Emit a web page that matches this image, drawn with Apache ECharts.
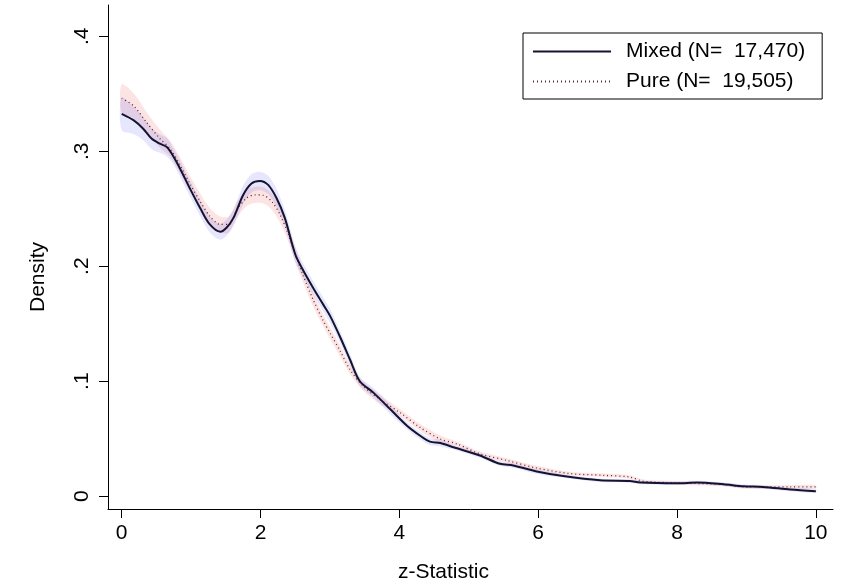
<!DOCTYPE html>
<html>
<head>
<meta charset="utf-8">
<script src="https://cdn.jsdelivr.net/npm/echarts@6/dist/echarts.min.js"></script>
<style>
html,body{margin:0;padding:0;background:#fff;}
#chart{width:853px;height:588px;}
</style>
</head>
<body>
<div id="chart"></div>
<script>
// ---------- data ----------
const seriesNames = ['Mixed (N=  17,470)', 'Pure (N=  19,505)'];

const zMixed = [0, 0.17, 0.31, 0.43, 0.55, 0.65, 0.72, 0.84, 0.98, 1.13, 1.27, 1.42, 1.51, 1.61, 1.75, 1.87, 1.99, 2.11, 2.23, 2.35, 2.5, 2.6, 2.75, 2.9, 3.0, 3.15, 3.29, 3.43, 3.63, 3.87, 4.11, 4.3, 4.44, 4.59, 4.78, 5.16, 5.45, 5.64, 5.98, 6.36, 6.89, 7.32, 7.47, 8.0, 8.29, 8.67, 8.96, 9.24, 9.63, 10.0];
const mixed = [0.3325, 0.327, 0.3196, 0.311, 0.3066, 0.3037, 0.298, 0.285, 0.268, 0.2506, 0.2363, 0.230, 0.2334, 0.242, 0.262, 0.272, 0.2742, 0.2707, 0.2593, 0.242, 0.2104, 0.198, 0.182, 0.167, 0.157, 0.138, 0.1186, 0.0999, 0.0898, 0.0755, 0.0612, 0.0525, 0.0474, 0.0462, 0.0425, 0.0353, 0.0281, 0.0267, 0.0215, 0.0175, 0.0138, 0.0132, 0.0118, 0.0112, 0.0118, 0.0103, 0.0086, 0.008, 0.0058, 0.0043];
const mixedHalfWidth = [0.014, 0.012, 0.010, 0.009, 0.008, 0.008, 0.007, 0.007, 0.007, 0.007, 0.007, 0.007, 0.007, 0.007, 0.008, 0.008, 0.008, 0.008, 0.008, 0.007, 0.007, 0.006, 0.006, 0.006, 0.006, 0.005, 0.005, 0.004, 0.004, 0.004, 0.003, 0.003, 0.003, 0.003, 0.002, 0.002, 0.002, 0.002, 0.002, 0.0015, 0.0015, 0.0015, 0.0015, 0.0015, 0.0015, 0.0015, 0.0015, 0.0015, 0.0015, 0.0015];

const zPure = [0, 0.17, 0.36, 0.55, 0.70, 0.84, 0.98, 1.13, 1.27, 1.42, 1.54, 1.66, 1.80, 1.92, 2.04, 2.16, 2.28, 2.40, 2.5, 2.6, 2.75, 2.9, 3.0, 3.15, 3.29, 3.48, 3.72, 4.01, 4.30, 4.59, 4.83, 5.16, 5.55, 5.98, 6.46, 6.94, 7.32, 7.52, 8.0, 8.67, 8.96, 9.63, 10.0];
const pure = [0.346, 0.3396, 0.325, 0.311, 0.302, 0.288, 0.272, 0.2564, 0.2435, 0.2363, 0.2363, 0.249, 0.2593, 0.262, 0.2616, 0.2564, 0.245, 0.2277, 0.2104, 0.194, 0.172, 0.153, 0.142, 0.126, 0.110, 0.0956, 0.0841, 0.0726, 0.0597, 0.0497, 0.0454, 0.0368, 0.031, 0.0244, 0.0196, 0.0181, 0.0166, 0.0129, 0.0115, 0.0101, 0.008, 0.008, 0.008];
const pureHalfWidth = [0.012, 0.011, 0.009, 0.008, 0.007, 0.007, 0.007, 0.007, 0.007, 0.007, 0.007, 0.007, 0.007, 0.007, 0.007, 0.007, 0.007, 0.006, 0.006, 0.006, 0.006, 0.005, 0.005, 0.005, 0.004, 0.004, 0.004, 0.003, 0.003, 0.003, 0.002, 0.002, 0.002, 0.002, 0.0015, 0.0015, 0.0015, 0.0015, 0.0015, 0.0015, 0.0015, 0.0015, 0.0015];

const xTicks = [0, 2, 4, 6, 8, 10];
const xTickLabels = ['0', '2', '4', '6', '8', '10'];
const yTicks = [0, 0.1, 0.2, 0.3, 0.4];
const yTickLabels = ['0', '.1', '.2', '.3', '.4'];
const xTitle = 'z-Statistic';
const yTitle = 'Density';

// ---------- chart ----------
const FONT = "'Liberation Sans', Arial, sans-serif";
const FS = 21;
const chart = echarts.init(document.getElementById('chart'), null, {renderer: 'canvas'});

function pairs(xs, ys) { return xs.map((x, i) => [x, ys[i]]); }
function bandData(xs, ys, hw) { return xs.map((x, i) => [x, ys[i] - hw[i], ys[i] + hw[i]]); }

function bandSeries(name, data, color) {
  return {
    name: name,
    type: 'custom',
    silent: true,
    z: 1,
    data: data,
    encode: {x: 0, y: [1, 2]},
    renderItem: function (params, api) {
      if (params.dataIndexInside !== 0) return null;
      const up = data.map(d => api.coord([d[0], d[2]]));
      const lo = data.map(d => api.coord([d[0], d[1]])).reverse();
      return {
        type: 'polygon',
        shape: {points: up.concat(lo), smooth: 0.3},
        style: {fill: color, stroke: null}
      };
    }
  };
}

const option = {
  backgroundColor: '#ffffff',
  animation: false,
  grid: {left: 108, right: 20, top: 5, bottom: 74, containLabel: false},
  legend: {
    data: seriesNames,
    orient: 'vertical',
    left: 523,
    top: 33,
    itemWidth: 78,
    itemHeight: 14,
    itemGap: 9,
    padding: [8, 17, 7, 9],
    borderColor: '#000',
    borderWidth: 1,
    borderRadius: 0,
    backgroundColor: '#fff',
    itemStyle: {opacity: 0},
    textStyle: {fontFamily: FONT, fontSize: FS, color: '#000', lineHeight: 21, padding: [0, 0, 0, 10]}
  },
  xAxis: {
    type: 'value',
    min: -0.197,
    max: 10.247,
    name: xTitle,
    nameLocation: 'middle',
    nameGap: 53,
    nameTextStyle: {fontFamily: FONT, fontSize: FS, color: '#000', padding: [0, 54, 0, 0]},
    axisLine: {show: true, onZero: false, lineStyle: {color: '#000', width: 1}},
    axisTick: {show: true, length: 9, customValues: xTicks, lineStyle: {color: '#000'}},
    axisLabel: {
      show: true, margin: 14, customValues: xTicks,
      fontFamily: FONT, fontSize: FS, color: '#000',
      formatter: v => xTickLabels[xTicks.indexOf(v)] ?? ''
    },
    splitLine: {show: false}
  },
  yAxis: {
    type: 'value',
    min: -0.0112,
    max: 0.4272,
    name: yTitle,
    nameLocation: 'middle',
    nameGap: 59,
    nameTextStyle: {fontFamily: FONT, fontSize: FS, color: '#000', padding: [0, 40, 0, 0]},
    axisLine: {show: true, onZero: false, lineStyle: {color: '#000', width: 1}},
    axisTick: {show: true, length: 9, customValues: yTicks, lineStyle: {color: '#000'}},
    axisLabel: {
      show: true, margin: 15, rotate: 90, customValues: yTicks,
      fontFamily: FONT, fontSize: FS, color: '#000',
      formatter: v => {
        const i = yTicks.findIndex(t => Math.abs(t - v) < 1e-9);
        return i >= 0 ? yTickLabels[i] : '';
      }
    },
    splitLine: {show: false}
  },
  series: [
    bandSeries('Pure band', bandData(zPure, pure, pureHalfWidth), 'rgba(235,90,90,0.16)'),
    bandSeries('Mixed band', bandData(zMixed, mixed, mixedHalfWidth), 'rgba(90,90,235,0.15)'),
    {
      name: seriesNames[1],
      type: 'line',
      z: 3,
      data: pairs(zPure, pure),
      smooth: 0.3,
      symbol: 'none',
      showSymbol: false,
      lineStyle: {color: '#5c2a2a', width: 1.3, type: [1, 3]},
      itemStyle: {color: '#5c2a2a'}
    },
    {
      name: seriesNames[0],
      type: 'line',
      z: 4,
      data: pairs(zMixed, mixed),
      smooth: 0.3,
      symbol: 'none',
      showSymbol: false,
      lineStyle: {color: '#141432', width: 2},
      itemStyle: {color: '#141432'}
    }
  ]
};
chart.setOption(option);
</script>
</body>
</html>
